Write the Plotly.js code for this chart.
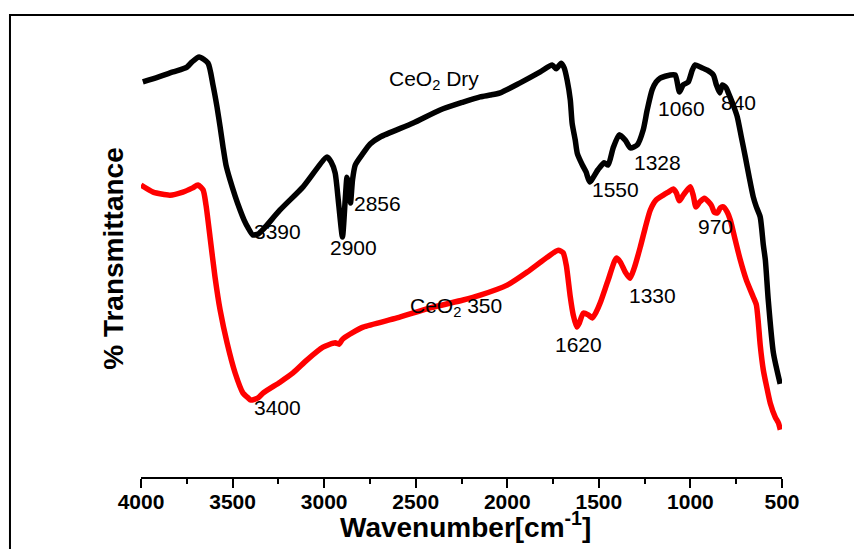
<!DOCTYPE html>
<html>
<head>
<meta charset="utf-8">
<script src="https://cdn.plot.ly/plotly-3.0.1.min.js"></script>
<style>
  html, body { margin: 0; padding: 0; background: #fff; }
  #chart { width: 854px; height: 549px; }
</style>
</head>
<body>
<div id="chart"></div>
<script>
// FTIR spectra of CeO2: as-prepared (dry) and calcined at 350
const dryWavenumber = [3990, 3907, 3825, 3749, 3721, 3683, 3634, 3607, 3585, 3568, 3552, 3536, 3514, 3486, 3459, 3437, 3415, 3390, 3360, 3330, 3241, 3115, 2984, 2962, 2940, 2920, 2900, 2885, 2875, 2865, 2856, 2845, 2830, 2787, 2749, 2694, 2514, 2367, 2241, 2148, 2093, 2039, 1930, 1820, 1755, 1733, 1706, 1689, 1673, 1656, 1646, 1629, 1618, 1590, 1570, 1550, 1505, 1471, 1449, 1422, 1389, 1356, 1328, 1290, 1258, 1236, 1209, 1187, 1165, 1110, 1083, 1060, 1040, 1012, 990, 974, 946, 908, 875, 858, 840, 825, 804, 793, 766, 744, 722, 700, 679, 657, 640, 619, 602, 591, 575, 547, 510];
const dryTransmittance = [90.4, 91.5, 92.7, 93.8, 95.0, 96.1, 94.7, 89.7, 84.7, 80.1, 75.5, 71.4, 68.0, 64.3, 61.1, 58.8, 57.0, 55.4, 55.6, 56.8, 61.1, 66.4, 73.2, 72.1, 69.6, 62.2, 54.9, 63.4, 68.6, 66.8, 62.7, 68.0, 71.4, 74.1, 76.2, 77.8, 81.0, 84.0, 85.8, 87.0, 87.4, 87.9, 90.2, 92.7, 94.3, 93.4, 94.7, 93.6, 90.8, 86.3, 81.0, 77.1, 74.1, 71.4, 69.8, 67.5, 70.3, 71.9, 71.4, 75.3, 78.3, 77.1, 75.3, 76.0, 79.4, 84.0, 88.6, 90.4, 91.3, 92.0, 92.0, 88.1, 89.7, 90.4, 93.1, 94.3, 93.8, 93.1, 92.0, 89.7, 87.9, 89.7, 89.0, 87.9, 85.1, 82.4, 77.8, 73.2, 68.6, 64.1, 61.8, 59.5, 53.1, 49.7, 40.5, 28.4, 21.3];

const calcWavenumber = [4000, 3934, 3842, 3771, 3721, 3689, 3661, 3645, 3623, 3596, 3568, 3530, 3486, 3443, 3415, 3400, 3361, 3334, 3241, 3170, 3093, 3006, 2940, 2918, 2902, 2886, 2847, 2787, 2602, 2421, 2241, 2148, 2001, 1891, 1782, 1722, 1695, 1678, 1656, 1640, 1620, 1607, 1585, 1558, 1536, 1514, 1493, 1449, 1405, 1383, 1356, 1330, 1307, 1274, 1247, 1219, 1187, 1148, 1121, 1094, 1077, 1061, 1039, 1001, 985, 970, 950, 924, 886, 870, 853, 837, 820, 799, 782, 755, 728, 695, 657, 640, 629, 619, 602, 580, 564, 537, 520, 509];
const calcTransmittance = [66.8, 65.2, 64.5, 65.2, 66.1, 66.8, 65.7, 62.2, 54.9, 45.8, 38.2, 30.7, 23.8, 19.2, 18.1, 17.6, 18.1, 19.2, 21.7, 23.8, 26.8, 29.7, 30.7, 30.4, 31.4, 32.0, 33.0, 34.3, 36.4, 38.7, 40.5, 41.6, 43.9, 46.9, 50.3, 51.9, 51.3, 48.5, 41.2, 37.1, 34.3, 35.2, 37.5, 37.1, 36.4, 37.8, 39.8, 45.1, 50.1, 49.2, 46.9, 45.5, 47.8, 52.6, 57.0, 61.1, 63.4, 64.5, 65.2, 65.9, 65.0, 63.2, 64.5, 66.4, 64.5, 61.8, 62.9, 63.8, 62.2, 60.6, 60.4, 61.6, 61.8, 60.6, 58.8, 54.2, 49.7, 45.1, 41.2, 39.4, 35.2, 30.2, 24.5, 19.9, 16.9, 13.7, 12.4, 10.8];

const xTicks = [4000, 3500, 3000, 2500, 2000, 1500, 1000, 500];

// band labels: [text, wavenumber, transmittance] for the text position
const bandLabels = [
  ['3390', 3252, 56.1],
  ['2900', 2842, 52.6],
  ['2856', 2711, 62.7],
  ['1550', 1411, 65.7],
  ['1328', 1181, 71.9],
  ['1060', 1050, 84.4],
  ['840', 739, 85.8],
  ['3400', 3257, 15.8],
  ['1620', 1613, 30.4],
  ['1330', 1208, 41.6],
  ['970', 864, 57.4]
];
const seriesLabels = [
  ['CeO<sub>2</sub> Dry', 2656, 90.9],
  ['CeO<sub>2</sub> 350', 2541, 38.9]
];

const FONT = 'Arial, "Liberation Sans", sans-serif';

const traces = [
  {
    x: dryWavenumber, y: dryTransmittance, type: 'scatter', mode: 'lines',
    name: 'CeO2 Dry',
    line: { color: '#000000', width: 5.5, shape: 'spline', smoothing: 0.6 }
  },
  {
    x: calcWavenumber, y: calcTransmittance, type: 'scatter', mode: 'lines',
    name: 'CeO2 350',
    line: { color: '#ff0000', width: 5.5, shape: 'spline', smoothing: 0.6 }
  }
];

const annotations = bandLabels.concat(seriesLabels).map(function (a, i) {
  const isSeries = i >= bandLabels.length;
  return {
    text: a[0], x: a[1], y: a[2], xref: 'x', yref: 'y',
    showarrow: false,
    xanchor: isSeries ? 'left' : 'center', yanchor: 'middle',
    font: { family: FONT, size: 21, color: '#000000' }
  };
});

// x-axis title, placed just under the tick labels
annotations.push({
  text: '<b>Wavenumber[cm<sup>-1</sup>]</b>',
  xref: 'paper', yref: 'paper', x: 0.5055, y: -0.11,
  xanchor: 'center', yanchor: 'middle', showarrow: false,
  font: { family: FONT, size: 28, color: '#000000' }
});

const layout = {
  width: 854, height: 549,
  margin: { l: 141, r: 72, t: 40, b: 72 },
  paper_bgcolor: '#ffffff', plot_bgcolor: '#ffffff',
  showlegend: false,
  xaxis: {
    range: [4000, 500],
    tickvals: xTicks,
    ticktext: xTicks.map(String),
    ticks: 'outside', ticklen: 9, tickwidth: 2, tickcolor: '#000000',
    minor: { dtick: 250, ticks: 'outside', ticklen: 5, tickwidth: 2, tickcolor: '#000000' },
    showline: true, linewidth: 2, linecolor: '#000000',
    showgrid: false, zeroline: false,
    ticklabelstandoff: -4,
    tickfont: { family: FONT, size: 21, color: '#000000', weight: 'bold' }
  },
  yaxis: {
    range: [0, 100],
    showticklabels: false, ticks: '', showline: false,
    showgrid: false, zeroline: false,
    title: {
      text: '% Transmittance',
      font: { family: FONT, size: 28, color: '#000000', weight: 'bold' },
      standoff: 8
    }
  },
  annotations: annotations,
  shapes: [
    {
      type: 'rect', xref: 'paper', yref: 'paper',
      x0: -0.2044, x1: 1.5, y0: -0.5, y1: 1.0572,
      line: { color: '#000000', width: 2 }, fillcolor: 'rgba(0,0,0,0)',
      layer: 'above'
    }
  ]
};

Plotly.newPlot('chart', traces, layout, { displayModeBar: false, staticPlot: true });
</script>
</body>
</html>
